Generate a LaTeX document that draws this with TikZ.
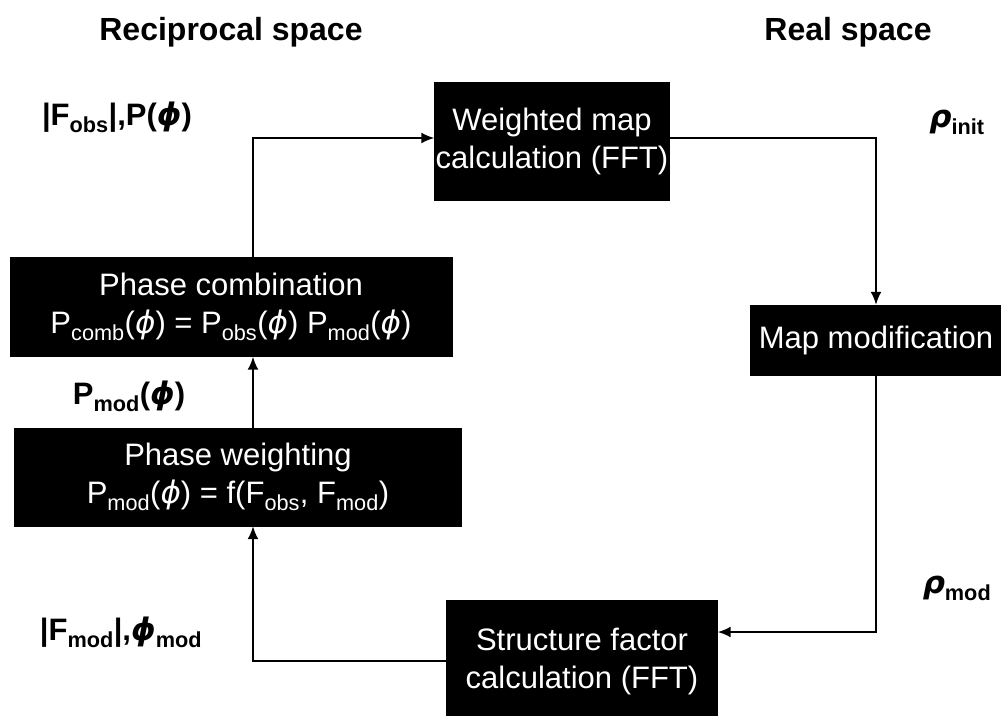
\documentclass[tikz,border=0pt]{standalone}
\usepackage{fontspec}
\setmainfont{Liberation Sans}
\newfontfamily\grk{DejaVu Sans}
\usepackage{tikz}
\usetikzlibrary{positioning,arrows.meta}
\tikzstyle{blk}=[%
      rectangle, draw=black, fill=black, text=white,
      align=center, inner sep=0pt, font=\fontsize{31}{38}\selectfont
]
\tikzstyle{lbl}=[%
      inner sep=0pt, font=\bfseries\fontsize{31}{38}\selectfont
]
\tikzstyle{ttl}=[%
      inner sep=0pt, font=\bfseries\fontsize{32}{38}\selectfont
]
\tikzstyle{flow}=[%
      line width=2pt, -{Latex[length=13pt,width=11pt]}
]
\newcommand{\lo}[1]{\textsubscript{#1}}
\newcommand{\fii}{{\grk\itshape ϕ}}
\newcommand{\rhoo}{{\grk\itshape ρ}}

\begin{document}
\begin{tikzpicture}[x=1pt, y=-1pt]
    \useasboundingbox (0,0) rectangle (1001,715);
    \coordinate (spine) at (253,0);

    \node[ttl] (recip) at (231,32) {Reciprocal space};
    \node[ttl] (real)  at (848,32) {Real space};

    \node[blk, minimum width=235pt, minimum height=118pt] (wmap)    at (552,141) {Weighted map\\calculation (FFT)};
    \node[blk, minimum width=252pt, minimum height=70pt]  (mapmod)  at (876,340) {Map modification};
    \node[blk, minimum width=271pt, minimum height=122pt] (sfac)    at (582,661) {Structure factor\\calculation (FFT)};
    \node[blk, minimum width=447pt, minimum height=98pt]  (pweight) at (238,477) {Phase weighting\\P\lo{mod}(\fii) = f(F\lo{obs}, F\lo{mod})};
    \node[blk, minimum width=442pt, minimum height=99pt]  (pcomb)   at (231,307) {Phase combination\\P\lo{comb}(\fii) = P\lo{obs}(\fii) P\lo{mod}(\fii)};

    \node[lbl] (fobs)  at (117,117) {|F\lo{obs}|,P(\fii)};
    \node[lbl] (rinit) at (957,122) {\rhoo\lo{init}};
    \node[lbl] (pmod)  at (129,396) {P\lo{mod}(\fii)};
    \node[lbl] (fmod)  at (121,632) {|F\lo{mod}|,\fii\lo{mod}};
    \node[lbl] (rmod)  at (957,588) {\rhoo\lo{mod}};

    \draw[flow] (pcomb.north -| spine) |- ([yshift=3pt]wmap.west);
    \draw[flow] ([yshift=3pt]wmap.east) -| (mapmod.north);
    \draw[flow] (mapmod.south) |- ([yshift=29pt]sfac.east);
    \draw[flow] (sfac.west) -| (pweight.south -| spine);
    \draw[flow] (pweight.north -| spine) -- (pcomb.south -| spine);
\end{tikzpicture}
\end{document}
